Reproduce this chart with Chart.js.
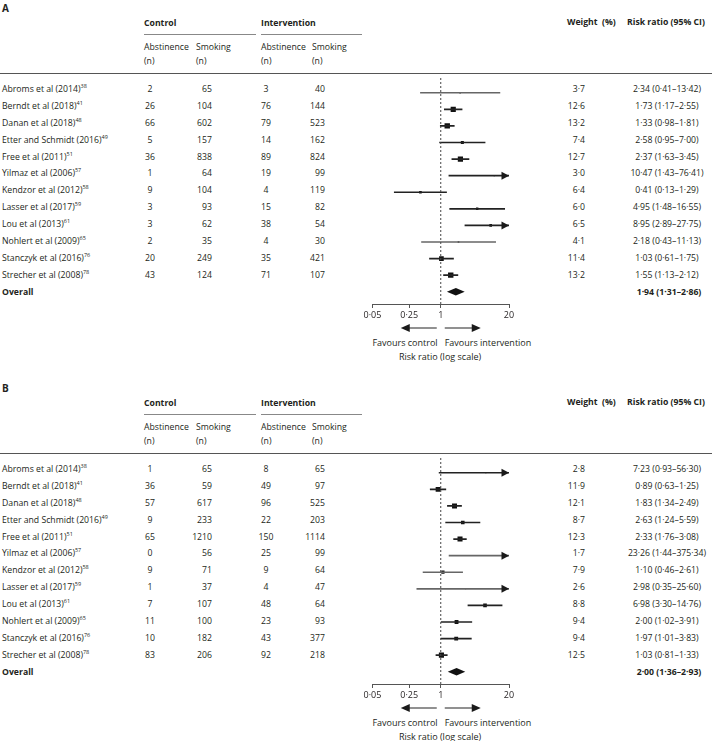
<!DOCTYPE html>
<html>
<head>
<meta charset="utf-8">
<script src="https://cdn.jsdelivr.net/npm/chart.js@4.4.1/dist/chart.umd.min.js"></script>
<style>
  body { margin: 0; width: 712px; height: 741px; position: relative; background: #fff; overflow: hidden;
         font-family: "Open Sans", sans-serif; font-size: 8.7px; color: #231f20; }
  .t { position: absolute; white-space: nowrap; line-height: 13px; }
  .b { font-weight: bold; }
  .ax { font-size: 9px; }
  .lt { font-size: 10px; }
  sup { font-size: 5.5px; vertical-align: 3.5px; line-height: 0; }
  .rule { position: absolute; height: 0; border-top: 1px solid #666; }
  canvas { position: absolute; }
</style>
</head>
<body>
<script>
// Studies (same in both panels)
const studies = ['Abroms et al (2014)', 'Berndt et al (2018)', 'Danan et al (2018)', 'Etter and Schmidt (2016)',
  'Free et al (2011)', 'Yilmaz et al (2006)', 'Kendzor et al (2012)', 'Lasser et al (2017)', 'Lou et al (2013)',
  'Nohlert et al (2009)', 'Stanczyk et al (2016)', 'Strecher et al (2008)'];
const refs = [38, 41, 48, 49, 51, 57, 58, 59, 61, 65, 76, 78];

// Panel A
const aCtrlAbst = [2, 26, 66, 5, 36, 1, 9, 3, 3, 2, 20, 43];
const aCtrlSmk = [65, 104, 602, 157, 838, 64, 104, 93, 62, 35, 249, 124];
const aIntAbst = [3, 76, 79, 14, 89, 19, 4, 15, 38, 4, 35, 71];
const aIntSmk = [40, 144, 523, 162, 824, 99, 119, 82, 54, 30, 421, 107];
const aWeight = [3.7, 12.6, 13.2, 7.4, 12.7, 3.0, 6.4, 6.0, 6.5, 4.1, 11.4, 13.2];
const aRR = [2.34, 1.73, 1.33, 2.58, 2.37, 10.47, 0.41, 4.95, 8.95, 2.18, 1.03, 1.55];
const aLo = [0.41, 1.17, 0.98, 0.95, 1.63, 1.43, 0.13, 1.48, 2.89, 0.43, 0.61, 1.13];
const aHi = [13.42, 2.55, 1.81, 7.00, 3.45, 76.41, 1.29, 16.55, 27.75, 11.13, 1.75, 2.12];
const aOverall = [1.94, 1.31, 2.86];

// Panel B
const bCtrlAbst = [1, 36, 57, 9, 65, 0, 9, 1, 7, 11, 10, 83];
const bCtrlSmk = [65, 59, 617, 233, 1210, 56, 71, 37, 107, 100, 182, 206];
const bIntAbst = [8, 49, 96, 22, 150, 25, 9, 4, 48, 23, 43, 92];
const bIntSmk = [65, 97, 525, 203, 1114, 99, 64, 47, 64, 93, 377, 218];
const bWeight = [2.8, 11.9, 12.1, 8.7, 12.3, 1.7, 7.9, 2.6, 8.8, 9.4, 9.4, 12.5];
const bRR = [7.23, 0.89, 1.83, 2.63, 2.33, 23.26, 1.10, 2.98, 6.98, 2.00, 1.97, 1.03];
const bLo = [0.93, 0.63, 1.34, 1.24, 1.76, 1.44, 0.46, 0.35, 3.30, 1.02, 1.01, 0.81];
const bHi = [56.30, 1.25, 2.49, 5.59, 3.08, 375.34, 2.61, 25.60, 14.76, 3.91, 3.83, 1.33];
const bOverall = [2.00, 1.36, 2.93];

// Axis
const xTicks = [0.05, 0.25, 1, 20];
const xMin = 0.05, xMax = 20;

// which CI lines look lighter in the print
const aGrey = [0, 9];
const bGrey = [5, 6, 7];

const ROW0 = 89, ROWH = 16.875;

function fmt(v, d) { return v.toFixed(d).replace('.', '·'); }

function txt(s, x, y, align, cls) {
  const d = document.createElement('div');
  d.className = 't ' + (cls || '');
  d.innerHTML = s;
  d.style.left = x + 'px';
  d.style.top = y + 'px';
  const tx = align === 'right' ? '-100%' : align === 'center' ? '-50%' : '0';
  d.style.transform = `translate(${tx},-50%)`;
  document.body.appendChild(d);
}

function rule(x1, x2, y, colour) {
  const d = document.createElement('div');
  d.className = 'rule';
  d.style.left = x1 + 'px';
  d.style.width = (x2 - x1) + 'px';
  d.style.top = y + 'px';
  if (colour) d.style.borderTopColor = colour;
  document.body.appendChild(d);
}

function buildPanel(letter, top, ctrlAbst, ctrlSmk, intAbst, intSmk, weight, rr, lo, hi, overall, grey) {
  // header
  txt(letter, 2, top + 8, 'left', 'b lt');
  txt('Control', 144, top + 23, 'left', 'b');
  txt('Intervention', 261, top + 23, 'left', 'b');
  rule(144, 256, top + 34, '#888');
  rule(261, 362, top + 34, '#888');
  txt('Abstinence', 144, top + 47, 'left');
  txt('(n)', 144, top + 61, 'left');
  txt('Smoking', 196, top + 47, 'left');
  txt('(n)', 196, top + 61, 'left');
  txt('Abstinence', 261, top + 47, 'left');
  txt('(n)', 261, top + 61, 'left');
  txt('Smoking', 312, top + 47, 'left');
  txt('(n)', 312, top + 61, 'left');
  txt('Weight&nbsp; (%)', 567, top + 22, 'left', 'b');
  txt('Risk ratio (95% CI)', 627, top + 22, 'left', 'b');
  rule(0, 712, top + 73, '#555');

  // rows
  studies.forEach((s, i) => {
    const y = top + ROW0 + ROWH * i;
    txt(s + '<sup>' + refs[i] + '</sup>', 2, y, 'left');
    txt(ctrlAbst[i], 150, y, 'center');
    txt(ctrlSmk[i], 212, y, 'right');
    txt(intAbst[i], 266, y, 'center');
    txt(intSmk[i], 325, y, 'right');
    txt(fmt(weight[i], 1), 585, y, 'right');
    txt(`${fmt(rr[i], 2)} (${fmt(lo[i], 2)}–${fmt(hi[i], 2)})`, 667, y, 'center');
  });
  const yo = top + ROW0 + ROWH * studies.length;
  txt('Overall', 2, yo, 'left', 'b');
  txt(`${fmt(overall[0], 2)} (${fmt(overall[1], 2)}–${fmt(overall[2], 2)})`, 669, yo, 'center', 'b');

  // axis captions
  txt('Favours control', 405, top + 342, 'center', 'ax');
  txt('Favours intervention', 488, top + 342, 'center', 'ax');
  txt('Risk ratio (log scale)', 440, top + 356, 'center', 'ax');

  // forest plot canvas
  const cvTop = top + 74, axisY = top + 304;
  const cv = document.createElement('canvas');
  cv.width = 220; cv.height = 270;
  cv.style.left = '340px'; cv.style.top = cvTop + 'px';
  cv.style.width = '220px'; cv.style.height = '270px';
  document.body.appendChild(cv);

  const yMin = (cvTop - (top + ROW0)) / ROWH;
  const yMax = (axisY - (top + ROW0)) / ROWH;
  const n = studies.length;

  const extras = {
    id: 'forestExtras' + letter,
    afterDatasetsDraw(chart) {
      const { ctx, scales: { x, y } } = chart;
      ctx.save();
      // arrowheads where CI runs off the axis
      ctx.fillStyle = '#1a1a1a';
      hi.forEach((h, i) => {
        const py = y.getPixelForValue(i);
        if (h > xMax) {
          const tip = x.getPixelForValue(xMax);
          ctx.beginPath();
          ctx.moveTo(tip, py); ctx.lineTo(tip - 7.5, py - 4); ctx.lineTo(tip - 7.5, py + 4);
          ctx.closePath(); ctx.fill();
        }
        if (lo[i] < xMin) {
          const tip = x.getPixelForValue(xMin);
          ctx.beginPath();
          ctx.moveTo(tip, py); ctx.lineTo(tip + 7.5, py - 4); ctx.lineTo(tip + 7.5, py + 4);
          ctx.closePath(); ctx.fill();
        }
      });
      // overall diamond
      const py = y.getPixelForValue(n);
      ctx.fillStyle = '#111';
      ctx.beginPath();
      ctx.moveTo(x.getPixelForValue(overall[1]), py);
      ctx.lineTo(x.getPixelForValue(overall[0]), py - 3.8);
      ctx.lineTo(x.getPixelForValue(overall[2]), py);
      ctx.lineTo(x.getPixelForValue(overall[0]), py + 3.8);
      ctx.closePath(); ctx.fill();
      // favours arrows under the axis
      const x1 = x.getPixelForValue(1), ay = chart.chartArea.bottom + 24;
      ctx.strokeStyle = '#555'; ctx.lineWidth = 1.3; ctx.fillStyle = '#1a1a1a';
      [-1, 1].forEach(dir => {
        const start = x1 + dir * 4, tip = x1 + dir * 40;
        ctx.beginPath(); ctx.moveTo(start, ay); ctx.lineTo(tip - dir * 7, ay); ctx.stroke();
        ctx.beginPath();
        ctx.moveTo(tip, ay); ctx.lineTo(tip - dir * 9, ay - 4); ctx.lineTo(tip - dir * 9, ay + 4);
        ctx.closePath(); ctx.fill();
      });
      ctx.restore();
    }
  };

  new Chart(cv, {
    type: 'bar',
    data: {
      datasets: [
        {
          type: 'scatter', showLine: true,
          data: [{ x: 1, y: yMin }, { x: 1, y: yMax }],
          borderColor: '#444', borderWidth: 1, borderDash: [2, 2], pointRadius: 0
        },
        {
          type: 'bar',
          data: lo.map((l, i) => ({ x: [l, hi[i]], y: i })),
          backgroundColor: lo.map((l, i) => grey.includes(i) ? '#666' : '#222'),
          barThickness: 1, borderWidth: 0
        },
        {
          type: 'scatter',
          data: rr.map((r, i) => ({ x: r, y: i })),
          pointStyle: 'rect',
          pointRadius: weight.map(w => w * 0.29),
          backgroundColor: '#111', borderWidth: 0
        }
      ]
    },
    options: {
      indexAxis: 'y',
      responsive: false, animation: false, events: [],
      layout: { padding: { left: 32.5, right: 51, top: 0, bottom: 0 } },
      plugins: { legend: { display: false }, tooltip: { enabled: false } },
      scales: {
        x: {
          type: 'logarithmic', min: xMin, max: xMax, offset: false,
          afterBuildTicks: s => { s.ticks = xTicks.map(v => ({ value: v })); },
          afterFit: s => { s.height = 40; },
          ticks: {
            callback: v => String(v).replace('.', '·'),
            font: { family: 'Open Sans', size: 9 }, color: '#231f20',
            padding: 2, maxRotation: 0, autoSkip: false
          },
          grid: { drawOnChartArea: false, tickLength: 4, color: '#555', offset: false },
          border: { color: '#555', width: 1 }
        },
        y: { type: 'linear', reverse: true, min: yMin, max: yMax, offset: false, display: false }
      }
    },
    plugins: [extras]
  });
}

buildPanel('A', 0, aCtrlAbst, aCtrlSmk, aIntAbst, aIntSmk, aWeight, aRR, aLo, aHi, aOverall, aGrey);
buildPanel('B', 380, bCtrlAbst, bCtrlSmk, bIntAbst, bIntSmk, bWeight, bRR, bLo, bHi, bOverall, bGrey);
</script>
</body>
</html>
